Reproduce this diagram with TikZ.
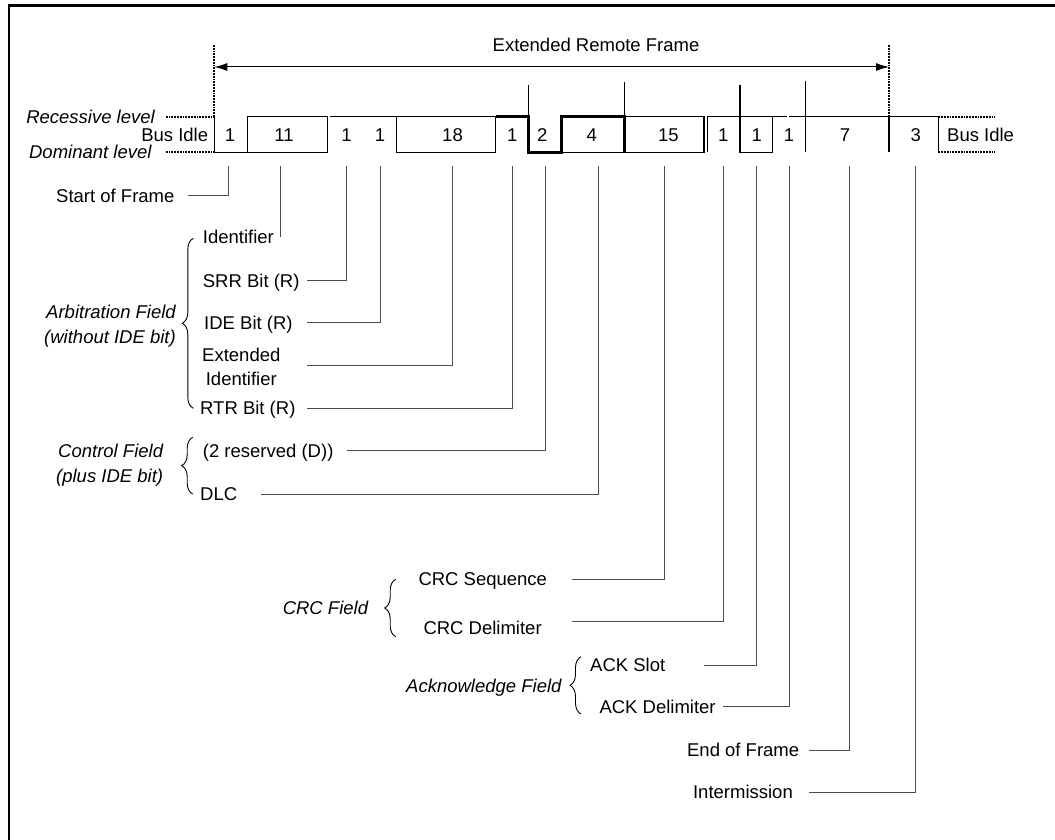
\documentclass[tikz,border=0pt]{standalone}
\usepackage{fontspec}
\setmainfont{Liberation Sans}
\usetikzlibrary{arrows.meta,decorations.pathreplacing}
\begin{document}
\begin{tikzpicture}[x=1pt,y=-1pt,
  every node/.style={font=\fontsize{18.5}{22}\selectfont, inner sep=0pt, text height=13.3pt, text depth=0pt},
  lbl/.style={anchor=west},
  lblr/.style={anchor=east},
  fld/.style={anchor=east, font=\fontsize{18.5}{22}\selectfont\itshape},
  wave/.style={line width=1.3pt},
  thickwave/.style={line width=2.7pt},
  leader/.style={line width=1pt, draw=black!70},
  dots/.style={line width=1.8pt, dash pattern=on 1.8pt off 1pt},
  fieldbrace/.style={decorate, decoration={brace, amplitude=11pt}, line width=0.9pt},
]
\useasboundingbox (0,0) rectangle (1055,840);
\def\yr{116.7}
\def\yd{152.3}
% frame (top and left edges)
\draw[line width=2.5pt] (9,840) -- (9,5.7) -- (1055,5.7);

% dotted bus idle lines and frame limits
\draw[dots] (165.7,\yr) -- (214.3,\yr);
\draw[dots] (165.7,\yd) -- (214.3,\yd);
\draw[dots] (214.3,45) -- (214.3,\yr);
\draw[dots] (889,45) -- (889,\yr);
\draw[dots] (938.3,\yr) -- (995,\yr);
\draw[dots] (938.3,\yd) -- (995,\yd);

% frame arrow and title
\coordinate (arrL) at (214.3,67);
\coordinate (arrR) at (889,67);
\draw[line width=1pt, {Latex[length=13pt,width=8pt]}-{Latex[length=13pt,width=8pt]}] (arrL) -- (arrR);
\node (title) at (596,45) {Extended Remote Frame};

% waveform
\draw[wave] (214.3,\yr) -- (214.3,\yd) -- (247.3,\yd) -- (247.3,\yr) -- (327.4,\yr) -- (327.4,\yd) -- (247.3,\yd);
\draw[wave] (330,\yr) -- (495.7,\yr) -- (495.7,\yd) -- (396.7,\yd) -- (396.7,\yr);
\draw[thickwave] (495.7,\yr) -- (528.3,\yr) -- (528.3,\yd) -- (561.7,\yd) -- (561.7,\yr) -- (624.3,\yr) -- (624.3,\yd);
\draw[wave] (528.3,85) -- (528.3,\yr);
\draw[wave] (624.3,81.7) -- (624.3,\yr);
\draw[wave] (561.7,\yd) -- (704,\yd) -- (704,\yr) -- (624.3,\yr);
\draw[wave] (707.3,\yd) -- (707.3,\yr) -- (786.7,\yr);
\draw[wave] (740,85) -- (740,\yd) -- (772.7,\yd) -- (772.7,\yr);
\draw[wave] (789.3,\yr) -- (938.3,\yr) -- (938.3,\yd);
\draw[wave] (805.7,81) -- (805.7,\yd);
\draw[wave] (889,\yr) -- (889,\yd);

% bit counts
\node (n1) at (230,135) {1};
\node (n2) at (284,135) {11};
\node (n3) at (346.5,135) {1};
\node (n4) at (380,135) {1};
\node (n5) at (452.5,135) {18};
\node (n6) at (512.3,135) {1};
\node (n7) at (542.3,135) {2};
\node (n8) at (591.7,135) {4};
\node (n9) at (668.3,135) {15};
\node (n10) at (723.3,135) {1};
\node (n11) at (756.7,135) {1};
\node (n12) at (789,135) {1};
\node (n13) at (845,135) {7};
\node (n14) at (915.7,135) {3};

% level labels
\node[lblr] (rec) at (155,116.7) {\itshape Recessive level};
\node[lblr] (dom) at (151.7,152.3) {\itshape Dominant level};
\node[lblr] (idleL) at (208.3,135) {Bus Idle};
\node[lbl] (idleR) at (947,135) {Bus Idle};

% field labels
\node[lbl] (sof) at (56,195.5) {Start of Frame};
\node[lbl] (ident) at (202.7,236.7) {Identifier};
\node[lbl] (srr) at (202.7,280.7) {SRR Bit (R)};
\node[lbl] (ide) at (204,323.3) {IDE Bit (R)};
\node (ext1) at (241.3,355) {Extended};
\node (ext2) at (241.3,379.3) {Identifier};
\node[lbl] (rtr) at (200,408.3) {RTR Bit (R)};
\node[lbl] (res) at (202.7,450.7) {(2 reserved (D))};
\node[lbl] (dlc) at (200,494) {DLC};
\node[lbl] (crcs) at (418.3,579.3) {CRC Sequence};
\node[lbl] (crcd) at (423.3,628) {CRC Delimiter};
\node[lbl] (acks) at (590,665) {ACK Slot};
\node[lbl] (ackd) at (599.3,706.7) {ACK Delimiter};
\node[lblr] (eof) at (799.4,750) {End of Frame};
\node[lblr] (ifs) at (793,792) {Intermission};

% group labels
\node[fld] (arb1) at (176,311.7) {Arbitration Field};
\node[fld] (arb2) at (176,336.7) {(without IDE bit)};
\node[fld] (ctl1) at (163.3,450.7) {Control Field};
\node[fld] (ctl2) at (163.3,475.7) {(plus IDE bit)};
\node[fld] (crcf) at (368.3,607.7) {CRC Field};
\node[fld] (ackf) at (561.7,685.7) {Acknowledge Field};

% braces
\draw[fieldbrace] (193.3,408.3) -- (193.3,238.3);
\draw[fieldbrace] (192.7,494) -- (192.7,437.3);
\draw[fieldbrace] (395.7,636.7) -- (395.7,579.3);
\draw[fieldbrace] (581,714) -- (581,656.7);

% leader anchor points on the waveform
\coordinate (bSOF) at (228.5,166);
\coordinate (bID) at (280.7,166);
\coordinate (bSRR) at (346.7,166);
\coordinate (bIDE) at (380,166);
\coordinate (bEXT) at (452.7,166);
\coordinate (bRTR) at (512.3,166);
\coordinate (bRES) at (545,166);
\coordinate (bDLC) at (598.3,166);
\coordinate (bCRCS) at (664.3,166);
\coordinate (bCRCD) at (723.3,166);
\coordinate (bACKS) at (756.7,166);
\coordinate (bACKD) at (789.5,166);
\coordinate (bEOF) at (849.5,166);
\coordinate (bIFS) at (915.3,166);
% leader start points beside the labels
\coordinate (lSOF) at (187.5,195.5);
\coordinate (lID) at (280.7,237.3);
\coordinate (lSRR) at (307.3,280.7);
\coordinate (lIDE) at (307.3,322.7);
\coordinate (lEXT) at (307.3,365.7);
\coordinate (lRTR) at (307.3,408.3);
\coordinate (lRES) at (346.7,450.7);
\coordinate (lDLC) at (260.7,494);
\coordinate (lCRCS) at (571.7,579.3);
\coordinate (lCRCD) at (571.7,621.7);
\coordinate (lACKS) at (704,665);
\coordinate (lACKD) at (723.3,706.7);
\coordinate (lEOF) at (809,750);
\coordinate (lIFS) at (809,792);

\draw[leader] (lSOF) -| (bSOF);
\draw[leader] (bID) -- (lID);
\draw[leader] (lSRR) -| (bSRR);
\draw[leader] (lIDE) -| (bIDE);
\draw[leader] (lEXT) -| (bEXT);
\draw[leader] (lRTR) -| (bRTR);
\draw[leader] (lRES) -| (bRES);
\draw[leader] (lDLC) -| (bDLC);
\draw[leader] (lCRCS) -| (bCRCS);
\draw[leader] (lCRCD) -| (bCRCD);
\draw[leader] (lACKS) -| (bACKS);
\draw[leader] (lACKD) -| (bACKD);
\draw[leader] (lEOF) -| (bEOF);
\draw[leader] (lIFS) -| (bIFS);
\end{tikzpicture}
\end{document}
